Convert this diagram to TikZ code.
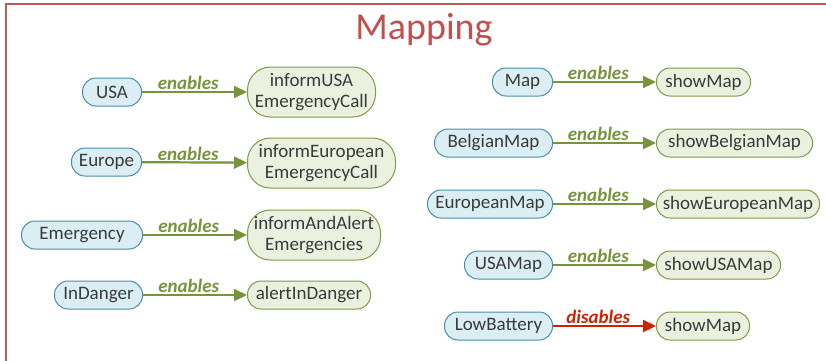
\documentclass[tikz,border=0pt]{standalone}
\usepackage{fontspec}
\setmainfont{Carlito}
\usetikzlibrary{arrows.meta}
\definecolor{frameRed}{HTML}{B85C5A}
\definecolor{titleRed}{HTML}{C0504D}
\definecolor{srcFill}{HTML}{DBEEF4}
\definecolor{srcLine}{HTML}{4A8EA8}
\definecolor{tgtFill}{HTML}{EBF1DE}
\definecolor{tgtLine}{HTML}{7F9A48}
\definecolor{enGreen}{HTML}{77933C}
\definecolor{disRed}{HTML}{CC2200}
\definecolor{txt}{HTML}{3A3A3A}
\tikzset{
  x=1pt, y=-1pt,
  box/.style={rectangle, rounded corners=13.5pt, draw, line width=1pt, inner xsep=2pt, inner ysep=0pt,
    minimum height=28pt, text=txt, align=center,
    font=\fontsize{19}{21.5}\selectfont},
  srcbox/.style={box, fill=srcFill, draw=srcLine, anchor=east},
  tgtbox/.style={box, fill=tgtFill, draw=tgtLine, anchor=west},
  tallbox/.style={minimum height=50pt, rounded corners=23pt},
  w/.style={minimum width=#1pt},
  rel/.style={line width=2.2pt, -{Triangle[length=13pt,width=12pt]}},
  enab/.style={rel, draw=enGreen},
  disab/.style={rel, draw=disRed},
  lbl/.style={above=0pt, pos=0.44, font=\fontsize{19}{21}\selectfont\bfseries\itshape, inner sep=1pt}
}
\begin{document}
\begin{tikzpicture}
\useasboundingbox (0,0) rectangle (826,360);
% page frame
\draw[frameRed, line width=1.4pt] (6,362) -- (6,4) -- (828,4);
\node[text=titleRed, font=\fontsize{38}{40}\selectfont] (title) at (424,30) {Mapping};

% left column
\node[srcbox, w=59] (usa) at (142,92) {USA};
\node[tgtbox, tallbox, w=128] (informusa) at (247,92) {informUSA\\EmergencyCall};
\node[srcbox, w=70] (europe) at (142,162) {Europe};
\node[tgtbox, tallbox, w=148] (informeu) at (247,163) {informEuropean\\EmergencyCall};
\node[srcbox, w=121] (emergency) at (143,235) {Emergency};
\node[tgtbox, tallbox, w=133] (informalert) at (247,235) {informAndAlert\\Emergencies};
\node[srcbox, w=88] (indanger) at (143,295) {InDanger};
\node[tgtbox, w=123] (alert) at (247,295) {alertInDanger};

% right column
\node[srcbox, w=60] (map) at (553,82) {Map};
\node[tgtbox, w=94] (showmap) at (656,82) {showMap};
\node[srcbox, w=118] (belgian) at (553,143) {BelgianMap};
\node[tgtbox, w=156] (showbelgian) at (656,143) {showBelgianMap};
\node[srcbox, w=125] (european) at (553,204) {EuropeanMap};
\node[tgtbox, w=163] (showeuropean) at (656,204) {showEuropeanMap};
\node[srcbox, w=88] (usamap) at (553,265) {USAMap};
\node[tgtbox, w=124] (showusa) at (656,265) {showUSAMap};
\node[srcbox, w=108] (lowbat) at (553,326) {LowBattery};
\node[tgtbox, w=93] (showmap2) at (656,326) {showMap};

% relations
\foreach \a/\b in {usa/informusa, europe/informeu, emergency/informalert, indanger/alert,
                   map/showmap, belgian/showbelgian, european/showeuropean, usamap/showusa}
  \draw[enab] (\a) -- node[lbl, text=enGreen] (\a-lbl) {enables} (\b);
\draw[disab] (lowbat) -- node[lbl, text=disRed] (lowbat-lbl) {disables} (showmap2);
\end{tikzpicture}
\end{document}
